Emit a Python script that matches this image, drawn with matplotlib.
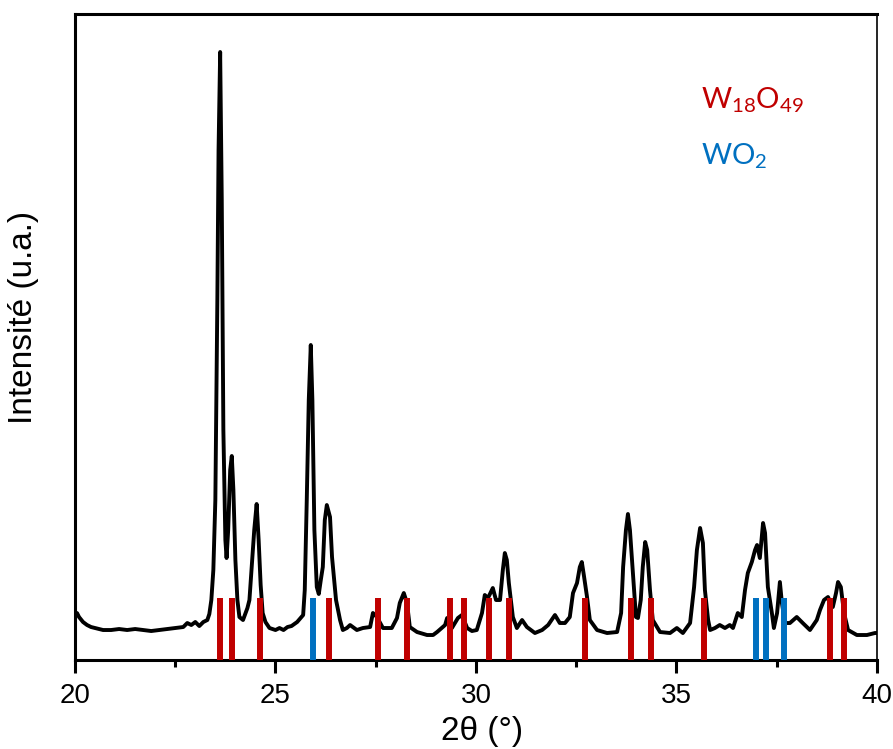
import matplotlib.pyplot as plt
from matplotlib.ticker import MultipleLocator

# --- DATA ---
two_theta = [
    20.00, 20.05, 20.10, 20.20, 20.30, 20.40, 20.50, 20.70, 20.90, 21.10,
    21.30, 21.50, 21.70, 21.90, 22.10, 22.30, 22.50, 22.70, 22.80, 22.90,
    23.00, 23.10, 23.20, 23.30, 23.35, 23.40, 23.45, 23.50, 23.55, 23.58,
    23.62, 23.66, 23.70, 23.75, 23.78, 23.82, 23.87, 23.91, 23.95, 24.00,
    24.05, 24.10, 24.19, 24.30, 24.35, 24.42, 24.47, 24.53, 24.58, 24.63,
    24.68, 24.75, 24.85, 25.00, 25.10, 25.20, 25.30, 25.40, 25.54, 25.69,
    25.73, 25.78, 25.83, 25.88, 25.92, 25.97, 26.03, 26.08, 26.13, 26.18,
    26.23, 26.28, 26.36, 26.41, 26.51, 26.61, 26.68, 26.78, 26.86, 27.03,
    27.18, 27.36, 27.43, 27.53, 27.68, 27.90, 28.03, 28.10, 28.20, 28.28,
    28.35, 28.53, 28.78, 28.93, 29.03, 29.23, 29.28, 29.40, 29.55, 29.65,
    29.78, 29.90, 30.02, 30.15, 30.22, 30.30, 30.42, 30.50, 30.60, 30.67,
    30.72, 30.77, 30.82, 30.92, 31.02, 31.15, 31.27, 31.47, 31.65, 31.80,
    31.97, 32.09, 32.22, 32.34, 32.42, 32.52, 32.59, 32.64, 32.69, 32.77,
    32.84, 33.02, 33.27, 33.52, 33.62, 33.67, 33.74, 33.79, 33.84, 33.92,
    33.99, 34.04, 34.11, 34.16, 34.22, 34.27, 34.34, 34.41, 34.59, 34.84,
    35.01, 35.16, 35.34, 35.44, 35.51, 35.59, 35.66, 35.71, 35.79, 35.84,
    35.96, 36.08, 36.21, 36.33, 36.41, 36.53, 36.63, 36.71, 36.78, 36.88,
    36.96, 37.01, 37.08, 37.16, 37.21, 37.28, 37.38, 37.43, 37.51, 37.58,
    37.63, 37.71, 37.83, 38.00, 38.15, 38.33, 38.50, 38.58, 38.68, 38.78,
    38.90, 38.98, 39.03, 39.10, 39.18, 39.28, 39.50, 39.75, 39.95, 40.00,
]
intensity = [
    44, 47, 43, 38, 35, 33, 32, 30, 30, 31,
    30, 31, 30, 29, 30, 31, 32, 33, 37, 35,
    38, 34, 38, 40, 46, 60, 90, 160, 360, 510,
    608, 460, 230, 120, 102, 130, 190, 204, 170, 100,
    60, 43, 40, 52, 60, 100, 130, 156, 120, 75,
    47, 38, 32, 30, 32, 30, 33, 34, 38, 45,
    70, 160, 260, 315, 260, 130, 73, 66, 80, 93,
    140, 155, 143, 103, 60, 40, 30, 32, 35, 30,
    32, 33, 47, 43, 32, 32, 42, 57, 67, 57,
    33, 28, 25, 25, 28, 35, 42, 32, 42, 45,
    32, 29, 30, 47, 65, 62, 72, 60, 60, 90,
    107, 100, 77, 43, 32, 40, 33, 27, 30, 35,
    45, 37, 37, 43, 67, 77, 93, 98, 85, 63,
    40, 30, 27, 28, 47, 93, 130, 146, 130, 83,
    43, 42, 60, 93, 118, 110, 70, 40, 28, 27,
    32, 27, 37, 73, 110, 132, 117, 70, 40, 30,
    32, 35, 32, 35, 32, 47, 43, 70, 87, 98,
    110, 115, 102, 137, 127, 73, 47, 32, 47, 78,
    57, 37, 37, 43, 37, 30, 40, 50, 60, 63,
    53, 67, 78, 73, 47, 30, 25, 25, 27, 27,
]

# reference peak positions
w18o49_pos = [23.62, 23.92, 24.61, 26.33, 27.56, 28.28, 29.35, 29.70, 30.32,
              30.82, 32.72, 33.87, 34.36, 35.69, 38.83, 39.18]
wo2_pos = [25.94, 36.98, 37.23, 37.68]
ref_height = 62

RED = "#C00000"
BLUE = "#0070C0"

# --- PLOT ---
fig = plt.figure(figsize=(8.93, 7.49), dpi=100)
ax = fig.add_axes([0.084, 0.1188, 0.898, 0.8625])

ax.vlines(w18o49_pos, 0, ref_height, colors=RED, lw=4.3, capstyle="butt", zorder=3)
ax.vlines(wo2_pos, 0, ref_height, colors=BLUE, lw=4.3, capstyle="butt", zorder=3)
ax.plot(two_theta, intensity, color="black", lw=2.8, zorder=2)

ax.set_xlim(20, 40)
ax.set_ylim(0, 646)
ax.xaxis.set_major_locator(MultipleLocator(5))
ax.xaxis.set_minor_locator(MultipleLocator(2.5))
ax.tick_params(axis="x", which="major", direction="out", length=9.5, width=2.2,
               labelsize=20, pad=7)
ax.tick_params(axis="x", which="minor", direction="out", length=5, width=2.2)
ax.set_yticks([])

for side in ["left", "top", "bottom"]:
    ax.spines[side].set_linewidth(2.2)
ax.spines["right"].set_linewidth(1.2)

for lab in ax.get_xticklabels():
    lab.set_fontfamily("Liberation Sans")
ax.set_xlabel("2θ (°)", fontsize=24, family="Liberation Sans")
ax.set_ylabel("Intensité (u.a.)", fontsize=24, family="Liberation Sans")
ax.xaxis.set_label_coords(0.507, -0.086)
ax.yaxis.set_label_coords(-0.045, 0.53)

ax.text(0.78, 0.867, r"W$_\mathregular{18}$O$_\mathregular{49}$", transform=ax.transAxes,
        color=RED, fontsize=21, family="Lato", va="center", ha="left")
ax.text(0.78, 0.78, r"WO$_\mathregular{2}$", transform=ax.transAxes,
        color=BLUE, fontsize=21, family="Lato", va="center", ha="left")

fig.savefig("out.png", dpi=100)
